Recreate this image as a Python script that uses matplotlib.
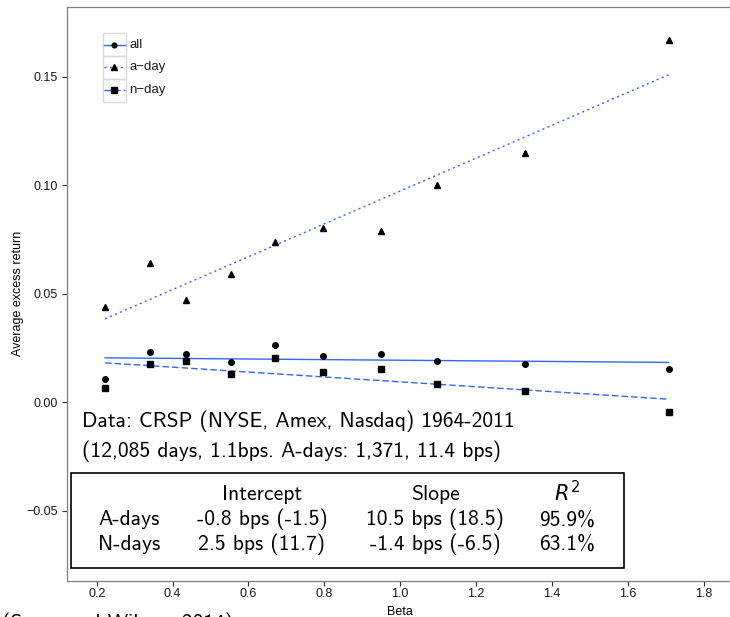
import numpy as np
import matplotlib
matplotlib.use("Agg")
import matplotlib.pyplot as plt
from matplotlib.lines import Line2D
from matplotlib.patches import Rectangle

plt.rcParams['font.family'] = ['Liberation Sans', 'DejaVu Sans']

W, H = 730, 617

# portfolio betas and average excess returns
beta = [0.222, 0.341, 0.435, 0.553, 0.670, 0.797, 0.949, 1.096, 1.329, 1.708]
ret_all = [0.0107, 0.0232, 0.0223, 0.0184, 0.0264, 0.0213, 0.0222, 0.0192, 0.0176, 0.0153]
ret_aday = [0.0440, 0.0640, 0.0471, 0.0592, 0.0739, 0.0801, 0.0789, 0.1002, 0.1149, 0.1668]
ret_nday = [0.0067, 0.0176, 0.0190, 0.0130, 0.0205, 0.0139, 0.0155, 0.0086, 0.0053, -0.0043]

series_labels = ['all', 'a\u2212day', 'n\u2212day']
x_ticks = [0.2, 0.4, 0.6, 0.8, 1.0, 1.2, 1.4, 1.6, 1.8]
y_ticks = [-0.05, 0.00, 0.05, 0.10, 0.15]

table_cols = ['Intercept', 'Slope']
table_rows = ['A-days', 'N-days']
table_cells = [['-0.8 bps (-1.5)', '10.5 bps (18.5)', '95.9%'],
               ['2.5 bps (11.7)', '-1.4 bps (-6.5)', '63.1%']]

BLUE = '#3366FF'


def fx(x):
    return x / W


def fy(y):
    return 1 - y / H


fig = plt.figure(figsize=(W / 100, H / 100), dpi=100)
ax = fig.add_axes([fx(67.3), fy(580.7), (733 - 67.3) / W, (580.7 - 7) / H])

b = np.array(beta)
xs = np.array([b.min(), b.max()])
styles = [('-', 'o', 4.0, ret_all),
          ((0, (1.5, 2.4)), '^', 5.0, ret_aday),
          ((0, (4.7, 2.2)), 's', 4.3, ret_nday)]
for ls, mk, ms, vals in styles:
    k, c = np.polyfit(b, vals, 1)
    ax.plot(xs, k * xs + c, color=BLUE, lw=1.0, linestyle=ls, zorder=2)
    ax.plot(beta, vals, linestyle='none', marker=mk, ms=ms, color='black',
            mec='black', zorder=3)

ax.set_xlim(0.1225, 1.8776)
ax.set_ylim(-0.0821, 0.1820)
ax.set_xticks(x_ticks)
ax.set_yticks(y_ticks)
ax.set_xticklabels(['%.1f' % t for t in x_ticks])
ax.set_yticklabels(['%.2f' % t if t != -0.05 else '\u22120.05' for t in y_ticks])
ax.tick_params(direction='out', length=3.6, width=0.8, color='#333333',
               labelsize=9, labelcolor='#1a1a1a')
ax.tick_params(axis='y', pad=3)
ax.tick_params(axis='x', pad=2)
for s in ax.spines.values():
    s.set_color('#7f7f7f')
    s.set_linewidth(0.9)
ax.set_xlabel('Beta', fontsize=9, labelpad=4)
ax.set_ylabel('Average excess return', fontsize=9, labelpad=2)

# legend keys with grey frames
key_x0, key_x1 = 102.7, 126.0
key_tops = [33.3, 56.0, 79.0]
key_h = 22.7
for (ls, mk, ms, _), lab, top in zip(styles, series_labels, key_tops):
    fig.add_artist(Rectangle((fx(key_x0), fy(top + key_h)), (key_x1 - key_x0) / W,
                             key_h / H, transform=fig.transFigure, fill=False,
                             ec='#d9d9d9', lw=1.0))
    yc = fy(top + key_h / 2)
    fig.add_artist(Line2D([fx(key_x0 + 1.5), fx(key_x1 - 1.5)], [yc, yc],
                          transform=fig.transFigure, color=BLUE, lw=1.0,
                          linestyle=ls))
    fig.add_artist(Line2D([fx((key_x0 + key_x1) / 2)], [yc], transform=fig.transFigure,
                          marker=mk, ms=ms * 0.85, color='black', linestyle='none'))
    fig.text(fx(129), yc, lab, fontsize=9.5, va='center', ha='left', color='#1a1a1a')

# data description
cm = dict(family='cmss10', fontsize=15.5, color='black')
fig.text(fx(81.5), fy(421), 'Data: CRSP (NYSE, Amex, Nasdaq) 1964-2011', va='center', **cm)
fig.text(fx(81.5), fy(451), '(12,085 days, 1.1bps. A-days: 1,371, 11.4 bps)',
         va='center', **cm)

# regression summary box
fig.add_artist(Rectangle((fx(71.2), fy(568.3)), (624 - 71.2) / W, (568.3 - 473.3) / H,
                         transform=fig.transFigure, fill=False, ec='black', lw=1.2))
col_x = [262, 435, 567]
row_y = [519.7, 544.5]
for cx, name in zip(col_x, table_cols):
    fig.text(fx(cx), fy(495), name, ha='center', va='center', **cm)
fig.text(fx(col_x[2]), fy(493), '$R^2$', ha='center', va='center', fontsize=15,
         math_fontfamily='dejavusans')
for ry, rname, cells in zip(row_y, table_rows, table_cells):
    fig.text(fx(129), fy(ry), rname, ha='center', va='center', **cm)
    for cx, cell in zip(col_x, cells):
        fig.text(fx(cx), fy(ry), cell, ha='center', va='center', **cm)

fig.text(fx(2), fy(612), '(Savor and Wilson, 2014)', ha='left', va='top', **cm)

fig.savefig('out.png', dpi=100)
